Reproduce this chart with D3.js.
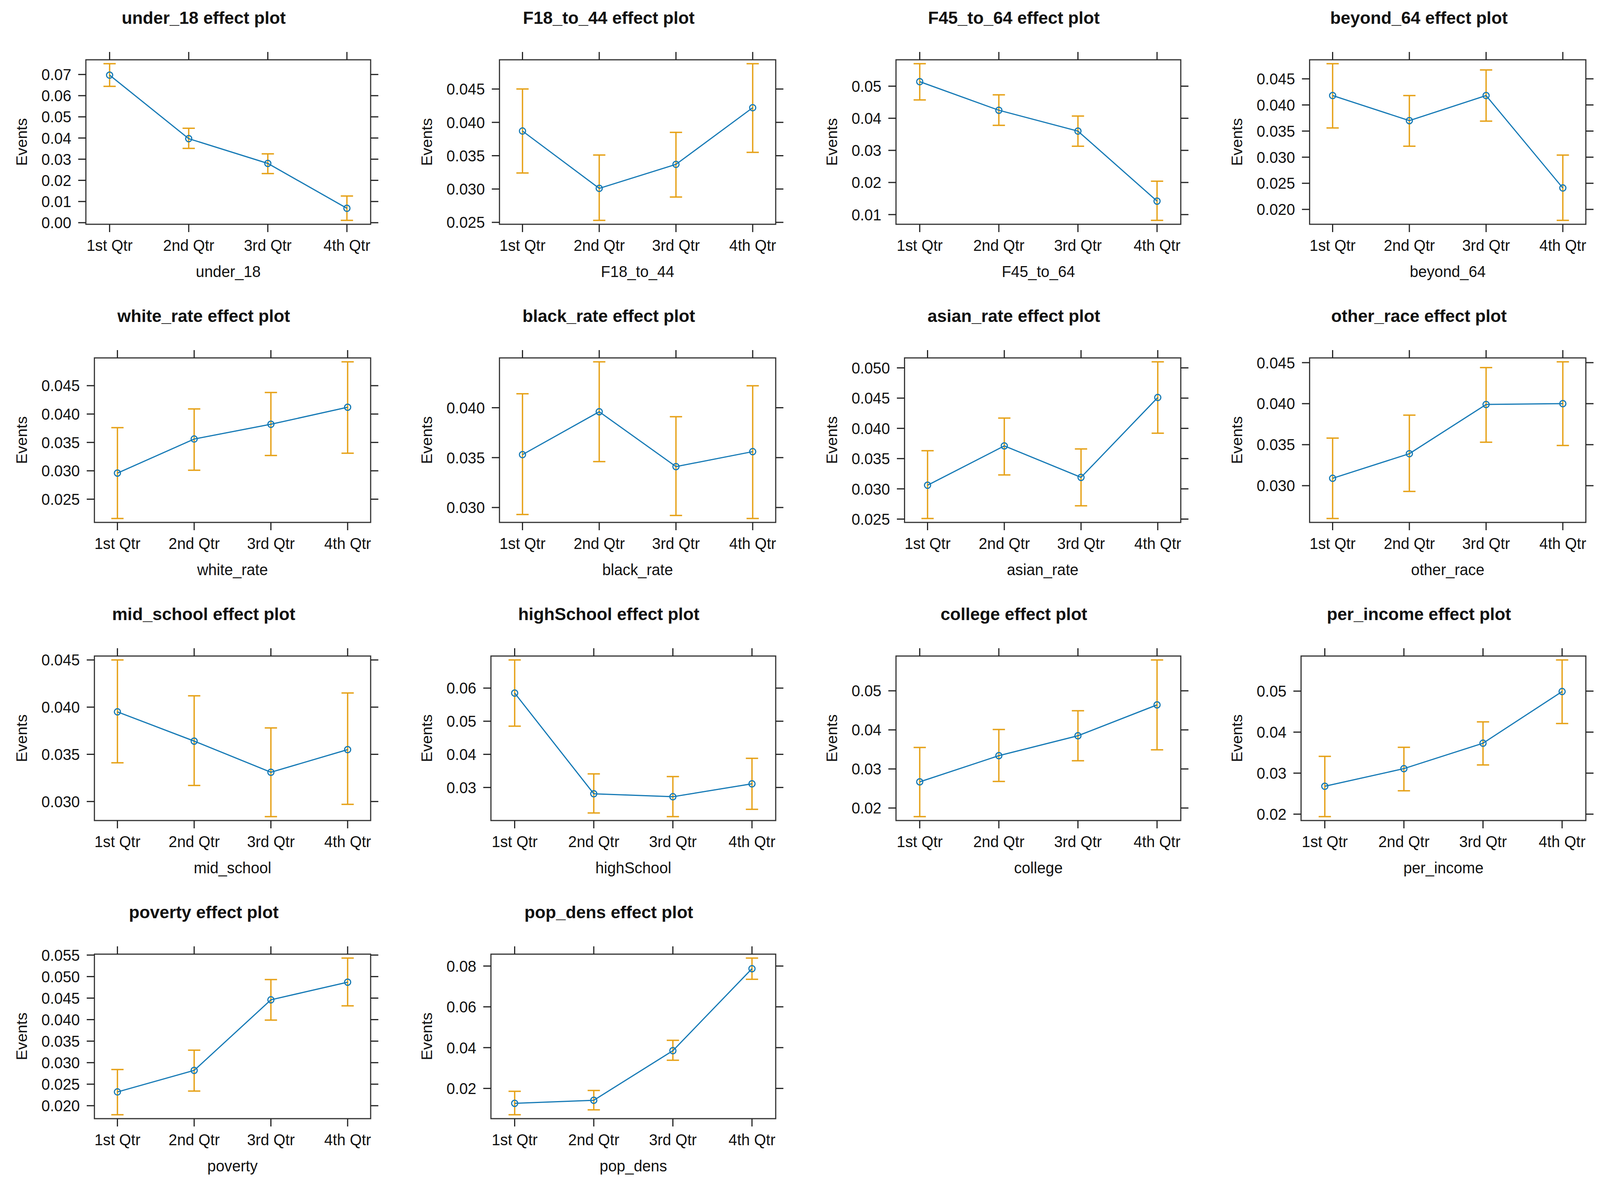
<!DOCTYPE html>
<html lang="en">
<head>
    <meta charset="UTF-8">
    <title>Effect plots by quartile</title>
    <script src="https://d3js.org/d3.v7.min.js"></script>
    <style>
        html, body { margin: 0; padding: 0; background: #fff; overflow: hidden; }
        svg { display: block; }
        text { font-family: "Liberation Sans", Arial, sans-serif; fill: #111; }
        .title { font-size: 45px; font-weight: bold; }
        .tick-label { font-size: 40px; }
        .axis-title { font-size: 40px; }
        .frame { fill: none; stroke: #333; stroke-width: 3px; }
        .tick { stroke: #222; stroke-width: 3px; }
        .fit-line { fill: none; stroke: #1479b5; stroke-width: 3px; }
        .point { fill: none; stroke: #1479b5; stroke-width: 3px; }
        .ci { stroke: #e6a117; stroke-width: 3.5px; }
    </style>
</head>
<body>
    <script>
        // Data
        const quarters = ["1st Qtr", "2nd Qtr", "3rd Qtr", "4th Qtr"];

        const variables = ["under_18", "F18_to_44", "F45_to_64", "beyond_64",
                           "white_rate", "black_rate", "asian_rate", "other_race",
                           "mid_school", "highSchool", "college", "per_income",
                           "poverty", "pop_dens"];

        const fitValues = [
            [0.0697, 0.0397, 0.0280, 0.0068],
            [0.0387, 0.0301, 0.0337, 0.0422],
            [0.0514, 0.0425, 0.0360, 0.0142],
            [0.0418, 0.0370, 0.0418, 0.0241],
            [0.0296, 0.0356, 0.0382, 0.0412],
            [0.0353, 0.0396, 0.0341, 0.0356],
            [0.0306, 0.0371, 0.0319, 0.0451],
            [0.0309, 0.0339, 0.0399, 0.0400],
            [0.0395, 0.0364, 0.0331, 0.0355],
            [0.0585, 0.0281, 0.0272, 0.0311],
            [0.0267, 0.0334, 0.0385, 0.0464],
            [0.0268, 0.0311, 0.0373, 0.0499],
            [0.0232, 0.0282, 0.0446, 0.0487],
            [0.0127, 0.0142, 0.0385, 0.0787]
        ];

        const lowerValues = [
            [0.0644, 0.0351, 0.0232, 0.0011],
            [0.0324, 0.0253, 0.0288, 0.0355],
            [0.0457, 0.0378, 0.0313, 0.0082],
            [0.0356, 0.0321, 0.0369, 0.0179],
            [0.0216, 0.0301, 0.0327, 0.0331],
            [0.0293, 0.0346, 0.0292, 0.0289],
            [0.0251, 0.0323, 0.0272, 0.0392],
            [0.0260, 0.0293, 0.0353, 0.0349],
            [0.0341, 0.0317, 0.0284, 0.0297],
            [0.0485, 0.0223, 0.0212, 0.0234],
            [0.0178, 0.0268, 0.0321, 0.0349],
            [0.0194, 0.0257, 0.0320, 0.0421],
            [0.0179, 0.0234, 0.0399, 0.0432],
            [0.0071, 0.0095, 0.0338, 0.0735]
        ];

        const upperValues = [
            [0.0751, 0.0446, 0.0325, 0.0126],
            [0.0450, 0.0351, 0.0385, 0.0488],
            [0.0570, 0.0473, 0.0407, 0.0204],
            [0.0479, 0.0418, 0.0467, 0.0304],
            [0.0376, 0.0409, 0.0438, 0.0492],
            [0.0414, 0.0446, 0.0391, 0.0422],
            [0.0363, 0.0417, 0.0366, 0.0510],
            [0.0358, 0.0386, 0.0444, 0.0451],
            [0.0450, 0.0412, 0.0378, 0.0415],
            [0.0685, 0.0341, 0.0333, 0.0388],
            [0.0355, 0.0401, 0.0449, 0.0579],
            [0.0341, 0.0363, 0.0425, 0.0576],
            [0.0284, 0.0329, 0.0493, 0.0543],
            [0.0186, 0.0190, 0.0436, 0.0839]
        ];

        const yTickValues = [
            [0.00, 0.01, 0.02, 0.03, 0.04, 0.05, 0.06, 0.07],
            [0.025, 0.030, 0.035, 0.040, 0.045],
            [0.01, 0.02, 0.03, 0.04, 0.05],
            [0.020, 0.025, 0.030, 0.035, 0.040, 0.045],
            [0.025, 0.030, 0.035, 0.040, 0.045],
            [0.030, 0.035, 0.040],
            [0.025, 0.030, 0.035, 0.040, 0.045, 0.050],
            [0.030, 0.035, 0.040, 0.045],
            [0.030, 0.035, 0.040, 0.045],
            [0.03, 0.04, 0.05, 0.06],
            [0.02, 0.03, 0.04, 0.05],
            [0.02, 0.03, 0.04, 0.05],
            [0.020, 0.025, 0.030, 0.035, 0.040, 0.045, 0.050, 0.055],
            [0.02, 0.04, 0.06, 0.08]
        ];

        const tickDecimals = [2, 3, 2, 3, 3, 3, 3, 3, 3, 2, 2, 2, 3, 2];

        // Page layout (lattice-like grid, 4 columns), drawn in a 4170x3020 viewBox
        // and stretched to whatever viewport the browser actually gives us
        const width = 4170, height = 3020;
        const cellW = 1055.7, cellH = 763, firstCellLeft = -53;
        const tickLen = 20, capHalf = 16, pointR = 8;

        const svg = d3.select("body").append("svg")
            .attr("width", window.innerWidth || width)
            .attr("height", window.innerHeight || height)
            .attr("viewBox", `0 0 ${width} ${height}`)
            .attr("preserveAspectRatio", "none");

        svg.append("rect").attr("width", width).attr("height", height).attr("fill", "#fff");

        variables.forEach((name, i) => {
            const col = i % 4, row = Math.floor(i / 4);
            const cellLeft = firstCellLeft + col * cellW;
            const top = row * cellH;
            const g = svg.append("g");

            const fmt = d3.format("." + tickDecimals[i] + "f");

            // y tick labels first, so the box can sit right of the widest one
            const labelLeft = cellLeft + 161;
            const labels = g.selectAll(".ylab")
                .data(yTickValues[i])
                .enter().append("text")
                .attr("class", "tick-label ylab")
                .text(d => fmt(d));
            let maxW = 0;
            labels.each(function() { maxW = Math.max(maxW, this.getComputedTextLength()); });

            const boxLeft = labelLeft + maxW + 18 + tickLen;
            const boxRight = cellLeft + 1019;
            const boxTop = top + 153, boxBottom = top + 574;

            const lo = d3.min(lowerValues[i]), hi = d3.max(upperValues[i]);
            const pad = (hi - lo) * 0.025;

            const x = d3.scalePoint().domain(quarters)
                .range([boxLeft, boxRight]).padding(0.3);
            const y = d3.scaleLinear().domain([lo - pad, hi + pad])
                .range([boxBottom, boxTop]);

            labels.attr("x", boxLeft - tickLen - 18)
                .attr("y", d => y(d))
                .attr("dy", "0.36em")
                .attr("text-anchor", "end");

            // frame
            g.append("rect").attr("class", "frame")
                .attr("x", boxLeft).attr("y", boxTop)
                .attr("width", boxRight - boxLeft).attr("height", boxBottom - boxTop);

            // left and right ticks
            yTickValues[i].forEach(v => {
                g.append("line").attr("class", "tick")
                    .attr("x1", boxLeft - tickLen).attr("x2", boxLeft)
                    .attr("y1", y(v)).attr("y2", y(v));
                g.append("line").attr("class", "tick")
                    .attr("x1", boxRight).attr("x2", boxRight + tickLen)
                    .attr("y1", y(v)).attr("y2", y(v));
            });

            // bottom and top ticks, category labels
            quarters.forEach(q => {
                g.append("line").attr("class", "tick")
                    .attr("x1", x(q)).attr("x2", x(q))
                    .attr("y1", boxBottom).attr("y2", boxBottom + tickLen);
                g.append("line").attr("class", "tick")
                    .attr("x1", x(q)).attr("x2", x(q))
                    .attr("y1", boxTop - tickLen).attr("y2", boxTop);
                g.append("text").attr("class", "tick-label")
                    .attr("x", x(q)).attr("y", top + 642)
                    .attr("text-anchor", "middle")
                    .text(q);
            });

            // titles
            g.append("text").attr("class", "title")
                .attr("x", cellLeft + 584).attr("y", top + 61)
                .attr("text-anchor", "middle")
                .text(name + " effect plot");

            g.append("text").attr("class", "axis-title")
                .attr("x", (boxLeft + boxRight) / 2).attr("y", top + 709)
                .attr("text-anchor", "middle")
                .text(name);

            g.append("text").attr("class", "axis-title")
                .attr("transform", `translate(${cellLeft + 123},${(boxTop + boxBottom) / 2}) rotate(-90)`)
                .attr("text-anchor", "middle")
                .text("Events");

            const pts = quarters.map((q, k) => ({
                q: q, fit: fitValues[i][k], lower: lowerValues[i][k], upper: upperValues[i][k]
            }));

            // confidence bars
            const ci = g.append("g");
            pts.forEach(d => {
                ci.append("line").attr("class", "ci")
                    .attr("x1", x(d.q)).attr("x2", x(d.q))
                    .attr("y1", y(d.lower)).attr("y2", y(d.upper));
                [d.lower, d.upper].forEach(v => {
                    ci.append("line").attr("class", "ci")
                        .attr("x1", x(d.q) - capHalf).attr("x2", x(d.q) + capHalf)
                        .attr("y1", y(v)).attr("y2", y(v));
                });
            });

            // fitted line and points
            g.append("path").attr("class", "fit-line")
                .datum(pts)
                .attr("d", d3.line().x(d => x(d.q)).y(d => y(d.fit)));

            g.selectAll(".point")
                .data(pts)
                .enter().append("circle")
                .attr("class", "point")
                .attr("cx", d => x(d.q))
                .attr("cy", d => y(d.fit))
                .attr("r", pointR);
        });
    </script>
</body>
</html>
